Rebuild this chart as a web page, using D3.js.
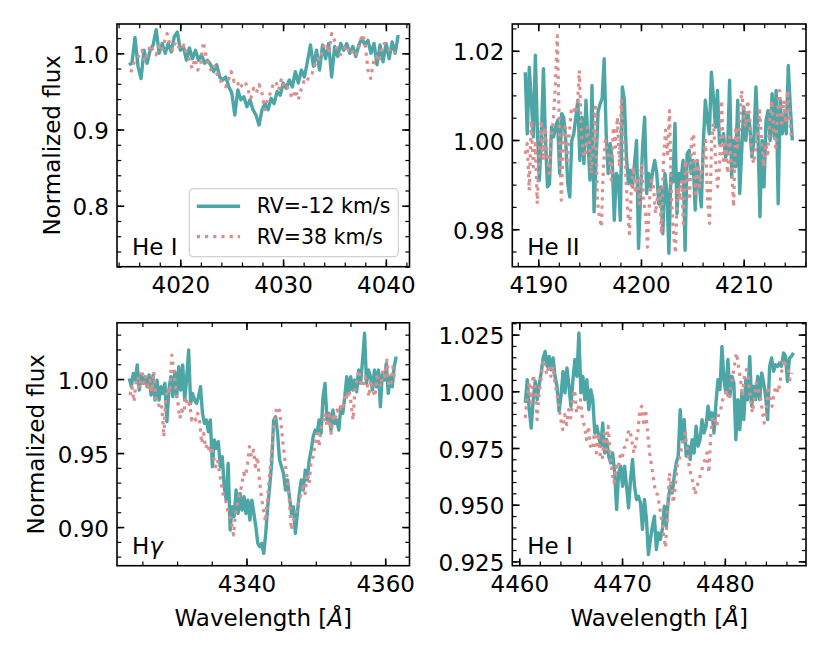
<!DOCTYPE html>
<html>
<head>
<meta charset="utf-8">
<script src="https://cdn.jsdelivr.net/npm/d3@7"></script>
<style>
  body { margin: 0; background: #fff; }
  svg { font-family: "DejaVu Sans", sans-serif; }
</style>
</head>
<body>
<svg id="chart" width="830" height="664"></svg>
<script>
// Line names and legend labels
const panelLabels = ["He I", "He II", "Hγ", "He I"];
const seriesLabels = ["RV=-12 km/s", "RV=38 km/s"];

// Wavelength span [first, last] of each spectrum (uniform sampling)
const waveHeI4026A = [4015.0, 4041.2];
const waveHeI4026B = [4015.19, 4040.97];
const waveHeII4200A = [4188.73, 4214.74];
const waveHeII4200B = [4188.73, 4214.68];
const waveHgammaA = [4323.12, 4361.58];
const waveHgammaB = [4323.21, 4361.39];
const waveHeI4471A = [4460.58, 4486.68];
const waveHeI4471B = [4460.58, 4486.52];

// Normalized flux, RV=-12 km/s (A) and RV=38 km/s (B)
const fluxHeI4026A = [
  0.985, 0.987, 1.021, 0.983, 0.967, 1.004, 0.987, 1.004, 1.011, 1.031,
  1.000, 1.013, 1.000, 1.013, 1.002, 1.022, 1.028, 1.004, 1.009, 0.991,
  1.007, 0.993, 1.004, 0.991, 0.998, 0.987, 0.991, 0.985, 0.976, 0.985,
  0.969, 0.965, 0.969, 0.956, 0.948, 0.919, 0.952, 0.939, 0.943, 0.930,
  0.939, 0.926, 0.919, 0.906, 0.926, 0.934, 0.926, 0.941, 0.934, 0.950,
  0.945, 0.961, 0.954, 0.965, 0.956, 0.976, 0.961, 0.978, 0.969, 0.989,
  1.011, 0.983, 1.004, 0.978, 1.011, 0.993, 1.013, 0.969, 1.009, 0.996,
  1.013, 1.004, 1.013, 1.000, 1.009, 0.996, 1.011, 1.020, 1.011, 1.017,
  1.000, 1.013, 0.985, 1.011, 0.989, 1.013, 0.993, 1.015, 1.000, 1.024
];
const fluxHeI4026B = [
  0.975, 0.987, 0.991, 0.998, 1.004, 0.989, 1.000, 1.011, 1.004, 0.998,
  1.009, 1.002, 1.015, 1.026, 1.011, 1.004, 1.015, 1.009, 1.004, 1.011,
  1.000, 0.991, 0.980, 0.993, 0.978, 0.985, 1.015, 0.996, 0.983, 0.976,
  0.983, 0.972, 0.965, 0.959, 0.956, 0.965, 0.976, 0.963, 0.965, 0.954,
  0.959, 0.963, 0.952, 0.941, 0.954, 0.948, 0.959, 0.948, 0.926, 0.939,
  0.948, 0.959, 0.963, 0.952, 0.967, 0.954, 0.956, 0.948, 0.941, 0.952,
  0.939, 0.952, 0.963, 0.961, 0.972, 0.974, 0.985, 0.993, 0.991, 1.009,
  1.013, 1.000, 1.026, 1.017, 1.004, 0.998, 1.002, 1.011, 1.004, 1.007,
  0.996, 1.000, 1.011, 1.025, 1.013, 0.978, 0.967, 0.989, 0.996, 0.989,
  1.011, 1.013, 1.009, 1.002, 1.000, 1.002
];
const fluxHeII4200A = [
  1.0152, 1.0014, 1.0163, 1.0089, 1.0007, 1.0190, 1.0022, 0.9910, 1.0014, 1.0160,
  0.9999, 0.9895, 0.9902, 1.0029, 1.0007, 1.0029, 1.0044, 0.9925, 1.0059, 1.0051,
  0.9999, 0.9902, 0.9872, 0.9999, 1.0014, 1.0051, 1.0089, 0.9954, 1.0051, 0.9947,
  1.0089, 0.9999, 0.9910, 1.0122, 0.9839, 0.9954, 1.0063, 1.0081, 1.0093, 1.0182,
  1.0014, 0.9925, 0.9992, 0.9954, 0.9820, 0.9925, 0.9917, 0.9820, 1.0119, 1.0089,
  0.9962, 0.9902, 0.9932, 0.9895, 0.9947, 0.9999, 0.9757, 0.9880, 0.9984, 1.0051,
  0.9880, 0.9925, 0.9895, 0.9932, 0.9954, 0.9925, 0.9857, 0.9895, 0.9790, 0.9925,
  0.9887, 0.9746, 0.9925, 0.9906, 1.0037, 0.9835, 0.9925, 0.9910, 0.9954, 0.9753,
  0.9969, 0.9977, 0.9925, 0.9954, 0.9843, 0.9954, 0.9902, 0.9850, 0.9992, 1.0089,
  1.0044, 1.0014, 1.0152, 1.0096, 1.0029, 1.0111, 0.9992, 0.9999, 1.0014, 0.9962,
  0.9973, 1.0134, 0.9917, 0.9999, 0.9940, 1.0089, 0.9880, 0.9977, 1.0074, 0.9999,
  1.0059, 1.0029, 0.9962, 0.9999, 1.0119, 1.0014, 0.9828, 0.9999, 0.9895, 1.0044,
  1.0066, 0.9999, 1.0104, 1.0007, 1.0111, 0.9857, 1.0089, 1.0014, 1.0059, 1.0014,
  1.0167, 1.0074, 0.9999
];
const fluxHeII4200B = [
  0.9969, 0.9992, 0.9887, 1.0044, 0.9940, 0.9992, 0.9857, 0.9969, 1.0044, 0.9954,
  1.0029, 0.9962, 0.9925, 1.0007, 1.0044, 1.0119, 1.0234, 1.0029, 0.9865, 0.9992,
  1.0029, 0.9954, 1.0014, 1.0066, 1.0074, 1.0059, 1.0074, 1.0156, 1.0014, 0.9969,
  0.9962, 1.0029, 0.9992, 0.9925, 0.9999, 1.0074, 0.9865, 0.9828, 0.9805, 0.9940,
  0.9999, 0.9969, 0.9962, 0.9910, 1.0029, 0.9984, 1.0051, 0.9940, 1.0089, 0.9999,
  0.9940, 0.9850, 0.9790, 0.9895, 0.9940, 0.9880, 0.9917, 0.9857, 0.9947, 0.9865,
  0.9835, 0.9760, 0.9865, 0.9910, 0.9895, 0.9835, 0.9872, 0.9895, 0.9790, 0.9954,
  1.0022, 0.9969, 1.0066, 0.9865, 0.9790, 0.9746, 0.9895, 0.9865, 0.9910, 0.9805,
  0.9954, 0.9910, 0.9865, 0.9999, 1.0014, 0.9880, 0.9954, 0.9895, 0.9925, 0.9962,
  0.9999, 0.9865, 0.9813, 0.9999, 1.0037, 0.9954, 0.9895, 0.9940, 1.0089, 0.9954,
  0.9992, 0.9925, 1.0007, 0.9940, 0.9850, 1.0029, 0.9984, 1.0029, 1.0111, 1.0059,
  1.0029, 1.0089, 1.0051, 0.9969, 0.9947, 0.9984, 1.0014, 1.0066, 0.9999, 0.9940,
  0.9992, 0.9969, 1.0044, 1.0089, 1.0022, 0.9984, 1.0066, 1.0111, 1.0029, 1.0089,
  1.0037, 1.0111, 1.0044, 0.9999
];
const fluxHgammaA = [
  1.0005, 0.9948, 1.0038, 0.9993, 1.0095, 0.9926, 1.0027, 0.9971, 1.0016, 0.9948,
  1.0027, 0.9892, 1.0027, 0.9858, 0.9993, 0.9858, 0.9948, 0.9903, 0.9971, 0.9712,
  0.9926, 1.0016, 0.9881, 1.0050, 0.9881, 1.0083, 0.9926, 1.0095, 0.9858, 1.0005,
  1.0196, 0.9836, 0.9903, 0.9858, 0.9836, 0.9881, 0.9948, 0.9768, 0.9700, 0.9723,
  0.9644, 0.9723, 0.9408, 0.9588, 0.9532, 0.9577, 0.9408, 0.9475, 0.9273, 0.9182,
  0.9430, 0.8980, 0.9137, 0.9070, 0.9250, 0.9092, 0.9227, 0.9115, 0.9205, 0.9092,
  0.9182, 0.9047, 0.9182, 0.9092, 0.9002, 0.8890, 0.8867, 0.8890, 0.8822, 0.8957,
  0.9137, 0.9273, 0.9430, 0.9723, 0.9745, 0.9633, 0.9453, 0.9408, 0.9363, 0.9250,
  0.9318, 0.9205, 0.9092, 0.9137, 0.8957, 0.9092, 0.9227, 0.9318, 0.9250, 0.9385,
  0.9318, 0.9453, 0.9520, 0.9610, 0.9655, 0.9633, 0.9723, 0.9633, 0.9881, 0.9971,
  0.9723, 0.9768, 0.9655, 0.9791, 0.9700, 0.9723, 0.9655, 0.9813, 0.9768, 0.9881,
  1.0016, 0.9903, 1.0016, 0.9926, 0.9993, 0.9914, 1.0061, 0.9971, 1.0128, 1.0309,
  0.9971, 1.0061, 1.0016, 0.9926, 1.0061, 0.9948, 1.0061, 0.9813, 1.0038, 0.9993,
  1.0106, 0.9903, 1.0016, 0.9948, 1.0083, 1.0151
];
const fluxHgammaB = [
  0.9892, 0.9948, 0.9847, 0.9971, 1.0016, 0.9937, 1.0061, 0.9971, 1.0016, 0.9926,
  0.9993, 0.9914, 1.0050, 0.9869, 0.9858, 0.9791, 0.9813, 0.9610, 0.9881, 0.9937,
  0.9903, 1.0162, 1.0061, 0.9937, 0.9847, 0.9734, 0.9791, 0.9768, 0.9881, 0.9813,
  0.9836, 0.9723, 0.9745, 0.9723, 0.9768, 0.9712, 0.9565, 0.9633, 0.9532, 0.9565,
  0.9498, 0.9543, 0.9475, 0.9408, 0.9453, 0.9363, 0.9284, 0.9205, 0.9182, 0.9115,
  0.9070, 0.9025, 0.8946, 0.9092, 0.9160, 0.9227, 0.9273, 0.9363, 0.9340, 0.9430,
  0.9543, 0.9475, 0.9520, 0.9408, 0.9475, 0.9318, 0.9205, 0.9115, 0.9036, 0.9182,
  0.9340, 0.9475, 0.9633, 0.9768, 0.9813, 0.9791, 0.9678, 0.9543, 0.9430, 0.9318,
  0.9182, 0.8980, 0.9047, 0.9070, 0.9137, 0.9182, 0.9227, 0.9273, 0.9227, 0.9363,
  0.9295, 0.9453, 0.9475, 0.9565, 0.9633, 0.9543, 0.9678, 0.9700, 0.9768, 0.9678,
  0.9757, 0.9633, 0.9745, 0.9723, 0.9791, 0.9768, 0.9836, 0.9791, 0.9903, 0.9858,
  0.9926, 0.9836, 0.9723, 0.9948, 0.9993, 1.0061, 0.9971, 0.9948, 1.0016, 0.9971,
  0.9881, 0.9993, 0.9926, 0.9881, 1.0016, 0.9993, 0.9948, 1.0061, 1.0016, 1.0128,
  0.9948, 0.9971, 1.0083, 0.9993
];
const fluxHeI4471A = [
  0.9949, 1.0051, 0.9919, 0.9838, 0.9963, 1.0044, 0.9963, 1.0029, 1.0081, 1.0147,
  1.0176, 1.0110, 1.0154, 1.0095, 1.0147, 1.0066, 1.0022, 0.9912, 0.9978, 1.0088,
  0.9993, 1.0103, 1.0022, 0.9934, 1.0051, 1.0140, 1.0066, 1.0257, 0.9993, 1.0066,
  0.9963, 1.0051, 0.9919, 1.0007, 0.9963, 0.9816, 0.9846, 0.9802, 0.9758, 0.9860,
  0.9728, 0.9787, 0.9714, 0.9684,
  0.9728, 0.9640, 0.9479, 0.9640, 0.9670, 0.9581, 0.9670, 0.9581, 0.9486, 0.9611,
  0.9699, 0.9581, 0.9523, 0.9537, 0.9508, 0.9391, 0.9523, 0.9435, 0.9280, 0.9347,
  0.9405, 0.9449, 0.9302, 0.9376, 0.9347, 0.9391, 0.9493, 0.9405, 0.9523, 0.9581,
  0.9552, 0.9626, 0.9684, 0.9714, 0.9919, 0.9787, 0.9875, 0.9714, 0.9758, 0.9699,
  0.9787, 0.9728, 0.9846, 0.9758, 0.9787, 0.9875, 0.9816, 0.9846, 0.9934, 0.9875,
  0.9905, 0.9816, 0.9949, 1.0051, 1.0007, 1.0198, 1.0051, 0.9993, 1.0140, 0.9978,
  1.0066, 1.0037, 0.9787, 0.9963, 0.9831, 0.9993, 0.9875, 1.0051, 0.9963, 1.0154,
  0.9934, 1.0022, 0.9963, 1.0066, 0.9963, 1.0081, 1.0037, 0.9978, 0.9875, 1.0110,
  1.0147, 1.0088, 1.0117, 1.0110, 1.0125, 1.0110, 1.0169, 1.0154, 1.0044, 1.0147,
  1.0154, 1.0169
];
const fluxHeI4471B = [
  0.9883, 0.9978, 1.0029, 0.9949, 1.0073, 1.0022, 0.9875, 0.9993, 1.0051, 1.0140,
  1.0103, 1.0073, 1.0117, 1.0066, 1.0110, 1.0037, 0.9993, 0.9934, 0.9875, 0.9831,
  0.9897, 0.9853, 0.9919, 0.9883, 0.9963, 1.0007, 0.9905, 0.9934, 0.9963, 0.9875,
  0.9846, 0.9787, 0.9846, 0.9758, 0.9743, 0.9816, 0.9728, 0.9816, 0.9714, 0.9699,
  0.9816, 0.9743, 0.9846, 0.9728,
  0.9640, 0.9596, 0.9670, 0.9655, 0.9714, 0.9699, 0.9750, 0.9758, 0.9816, 0.9831,
  0.9780, 0.9728, 0.9772, 0.9816, 0.9919, 0.9934, 0.9846, 0.9919, 0.9816, 0.9728,
  0.9670, 0.9611, 0.9552, 0.9545, 0.9493, 0.9435, 0.9376, 0.9310, 0.9449, 0.9640,
  0.9581, 0.9508, 0.9581, 0.9670, 0.9699, 0.9743, 0.9787, 0.9816, 0.9743, 0.9670,
  0.9626, 0.9596, 0.9545, 0.9581, 0.9611, 0.9640, 0.9670, 0.9699, 0.9728, 0.9640,
  0.9816, 0.9890, 0.9875, 0.9846, 0.9905, 0.9919, 0.9963, 0.9978, 1.0007, 0.9963,
  1.0022, 1.0066, 1.0117, 1.0169, 1.0110, 1.0051, 0.9978, 1.0066, 1.0095, 1.0051,
  0.9978, 0.9905, 0.9963, 1.0037, 1.0007, 0.9978, 0.9919, 0.9860, 0.9905, 1.0022,
  0.9963, 0.9934, 0.9993, 1.0022, 0.9993, 1.0037, 1.0095, 1.0140, 1.0117, 1.0110,
  1.0051, 1.0081
];

// Major tick values per panel
const xTicks = [[4020, 4030, 4040], [4190, 4200, 4210], [4340, 4360], [4460, 4470, 4480]];
const yTicks = [[0.8, 0.9, 1.0], [0.98, 1.00, 1.02], [0.90, 0.95, 1.00], [0.925, 0.950, 0.975, 1.000, 1.025]];

// Axis limits and minor tick spacing
const xLims = [[4013.84, 4042.3], [4187.47, 4216.07], [4321.34, 4363.5], [4459.32, 4487.9]];
const yLims = [[0.72, 1.0385], [0.9716, 1.026], [0.8739, 1.038], [0.9231, 1.0302]];
const xMinor = [2, 2, 5, 2];
const yMinor = [0.02, 0.005, 0.01, 0.005];
const yDigits = [1, 2, 2, 3];

const spectra = [
  [[waveHeI4026A, fluxHeI4026A], [waveHeI4026B, fluxHeI4026B]],
  [[waveHeII4200A, fluxHeII4200A], [waveHeII4200B, fluxHeII4200B]],
  [[waveHgammaA, fluxHgammaA], [waveHgammaB, fluxHgammaB]],
  [[waveHeI4471A, fluxHeI4471A], [waveHeI4471B, fluxHeI4471B]]
];

// Axes boxes in pixels, and where each y label sits
const boxes = [
  { left: 117, right: 409.5, top: 24, bottom: 266.7, ylab: 60 },
  { left: 512.3, right: 806, top: 24, bottom: 266.7 },
  { left: 117, right: 409.5, top: 322.8, bottom: 565.7, ylab: 43.5 },
  { left: 512.3, right: 806, top: 322.8, bottom: 565.7 }
];

const colorA = "#4da6a6";
const colorB = "#dc8d8d";
const fontSize = 23;
const legendSize = 20.5;

const svg = d3.select("#chart");
svg.append("rect").attr("width", 830).attr("height", 664).attr("fill", "#fff");

function sampled(span, flux) {
  const n = flux.length;
  const step = (span[1] - span[0]) / (n - 1);
  return flux.map((f, i) => ({ w: span[0] + i * step, f: f }));
}

function minorTicks(lim, step) {
  const start = Math.ceil(lim[0] / step) * step;
  return d3.range(start, lim[1], step);
}

boxes.forEach((b, p) => {
  const x = d3.scaleLinear().domain(xLims[p]).range([b.left, b.right]);
  const y = d3.scaleLinear().domain(yLims[p]).range([b.bottom, b.top]);
  const g = svg.append("g");

  g.append("clipPath").attr("id", "clip" + p)
    .append("rect")
    .attr("x", b.left).attr("y", b.top)
    .attr("width", b.right - b.left).attr("height", b.bottom - b.top);

  const line = d3.line().x(d => x(d.w)).y(d => y(d.f));
  const lines = g.append("g").attr("clip-path", "url(#clip" + p + ")");

  // RV=-12 km/s, solid teal
  lines.append("path")
    .datum(sampled(spectra[p][0][0], spectra[p][0][1]))
    .attr("d", line)
    .attr("fill", "none")
    .attr("stroke", colorA)
    .attr("stroke-width", 3.4)
    .attr("stroke-linejoin", "round");

  // RV=38 km/s, dotted pink
  lines.append("path")
    .datum(sampled(spectra[p][1][0], spectra[p][1][1]))
    .attr("d", line)
    .attr("fill", "none")
    .attr("stroke", colorB)
    .attr("stroke-width", 3.2)
    .attr("stroke-dasharray", "3.2,5")
    .attr("stroke-linejoin", "round");

  const fmt = d3.format("." + yDigits[p] + "f");
  const xMin = minorTicks(xLims[p], xMinor[p]);
  const yMin = minorTicks(yLims[p], yMinor[p]);

  const axes = [
    { ax: d3.axisBottom(x).tickValues(xTicks[p]).tickFormat(d3.format("d")), t: `translate(0,${b.bottom})`, labels: true, minor: d3.axisBottom(x).tickValues(xMin) },
    { ax: d3.axisTop(x).tickValues(xTicks[p]), t: `translate(0,${b.top})`, labels: false, minor: d3.axisTop(x).tickValues(xMin) },
    { ax: d3.axisLeft(y).tickValues(yTicks[p]).tickFormat(fmt), t: `translate(${b.left},0)`, labels: true, minor: d3.axisLeft(y).tickValues(yMin) },
    { ax: d3.axisRight(y).tickValues(yTicks[p]), t: `translate(${b.right},0)`, labels: false, minor: d3.axisRight(y).tickValues(yMin) }
  ];

  axes.forEach((a, k) => {
    const mg = g.append("g").attr("transform", a.t)
      .call(a.minor.tickSize(-4.2).tickFormat(""));
    mg.select(".domain").remove();
    mg.selectAll(".tick line").attr("stroke", "#000").attr("stroke-width", 1.2);

    a.ax.tickSize(-7.3).tickPadding(k === 0 ? 10.3 : 8);
    if (!a.labels) a.ax.tickFormat("");
    const ag = g.append("g").attr("transform", a.t).call(a.ax);
    ag.select(".domain").remove();
    ag.selectAll(".tick line").attr("stroke", "#000").attr("stroke-width", 1.6);
    ag.selectAll(".tick text")
      .attr("font-family", "DejaVu Sans")
      .attr("font-size", fontSize)
      .attr("fill", "#000");
    if (k === 2) ag.selectAll(".tick text").attr("dy", "0.40em");
  });

  // axes frame
  g.append("rect")
    .attr("x", b.left).attr("y", b.top)
    .attr("width", b.right - b.left).attr("height", b.bottom - b.top)
    .attr("fill", "none").attr("stroke", "#000").attr("stroke-width", 1.6);

  // line label
  const lab = g.append("text")
    .attr("x", b.left + 15).attr("y", b.bottom - 11.5)
    .attr("font-size", fontSize).attr("fill", "#000");
  if (panelLabels[p] === "Hγ") {
    lab.append("tspan").text("H");
    lab.append("tspan").attr("font-style", "italic").text("γ");
  } else {
    lab.text(panelLabels[p]);
  }

  // y label on the left column
  if (b.ylab !== undefined) {
    svg.append("text")
      .attr("transform", `translate(${b.ylab},${(b.top + b.bottom) / 2}) rotate(-90)`)
      .attr("text-anchor", "middle")
      .attr("font-size", fontSize)
      .text("Normalized flux");
  }

  // x label on the bottom row
  if (p >= 2) {
    const xl = svg.append("text")
      .attr("x", (b.left + b.right) / 2).attr("y", 626)
      .attr("text-anchor", "middle")
      .attr("font-size", fontSize);
    xl.append("tspan").text("Wavelength [");
    xl.append("tspan").attr("font-style", "italic").text("Å");
    xl.append("tspan").text("]");
  }
});

// Legend in the first panel
const legend = svg.append("g").attr("transform", "translate(189.3,188.7)");
legend.append("rect")
  .attr("width", 209).attr("height", 68).attr("rx", 4)
  .attr("fill", "#fff").attr("fill-opacity", 0.8)
  .attr("stroke", "#d0d0d0").attr("stroke-width", 1.2);

seriesLabels.forEach((s, i) => {
  const yy = 17.5 + i * 30.5;
  legend.append("line")
    .attr("x1", 7.5).attr("x2", 50.8).attr("y1", yy).attr("y2", yy)
    .attr("stroke", i === 0 ? colorA : colorB)
    .attr("stroke-width", i === 0 ? 3.4 : 3.2)
    .attr("stroke-dasharray", i === 0 ? null : "3.2,5");
  legend.append("text")
    .attr("x", 67.4).attr("y", yy + 7.3)
    .attr("font-size", legendSize)
    .text(s);
});
</script>
</body>
</html>
